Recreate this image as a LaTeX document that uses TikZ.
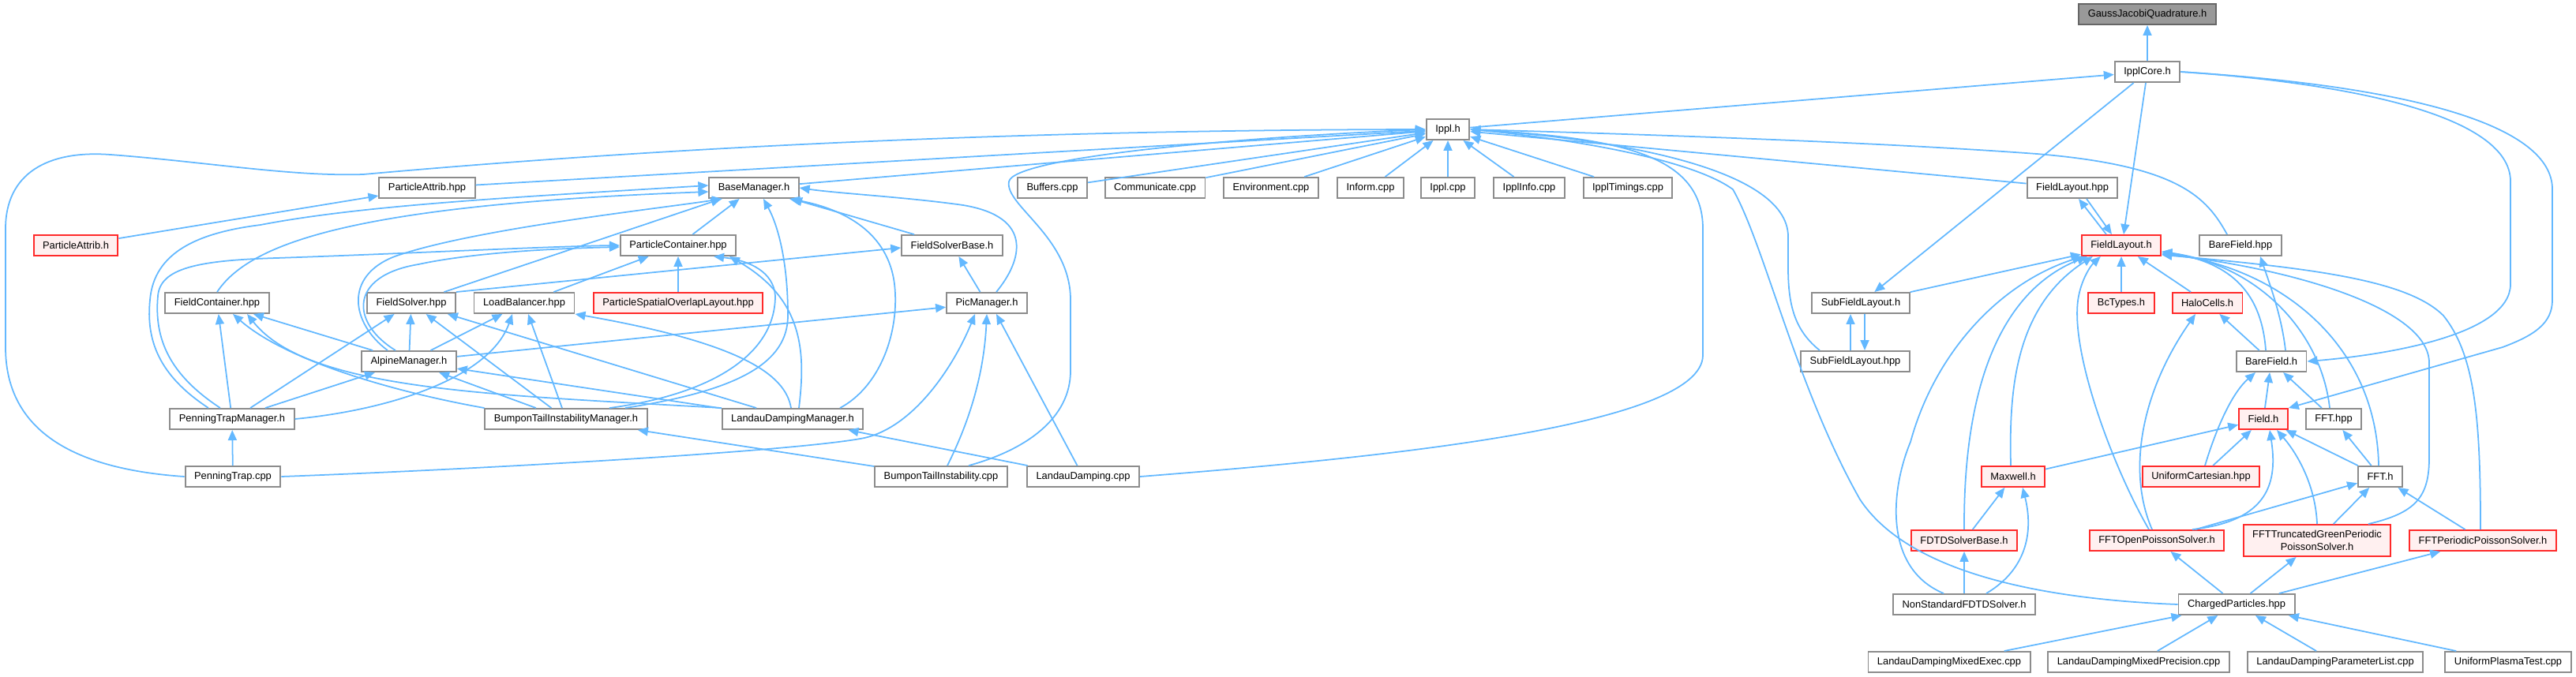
\documentclass[tikz,border=0pt]{standalone}
\usepackage{fontspec}
\setmainfont{Liberation Sans}
\usetikzlibrary{arrows.meta}
\begin{document}
\begin{tikzpicture}[x=1cm,y=-1cm,font=\fontsize{3.67}{4.4}\selectfont]
\definecolor{cedge}{HTML}{63B8FF}
\definecolor{cbox}{HTML}{8C8C8C}
\definecolor{cred}{HTML}{FF2A2A}\definecolor{credl}{HTML}{FFF0F0}
\definecolor{croot}{HTML}{999999}\definecolor{crootd}{HTML}{666666}
\tikzset{filenode/.style={draw=cbox,fill=white,line width=0.55pt,minimum height=0.26cm,inner xsep=0.115cm,inner ysep=0pt},
 filecut/.style={filenode,draw=cred,fill=credl},
 fileroot/.style={filenode,draw=crootd,fill=croot},
 dep/.style={cedge,line width=0.5pt,-{Triangle[length=0.13cm,width=0.11cm]}}}
\useasboundingbox (0,0) rectangle (32.63,8.57);
% files
\node[fileroot] (gjq) at (27.20,0.18) {GaussJacobiQuadrature.h};
\node[filenode] (core) at (27.20,0.91) {IpplCore.h};
\node[filenode] (ippl) at (18.34,1.64) {Ippl.h};
\node[filenode] (pahpp) at (5.41,2.38) {ParticleAttrib.hpp};
\node[filenode] (base) at (9.55,2.38) {BaseManager.h};
\node[filenode] (buffers) at (13.33,2.38) {Buffers.cpp};
\node[filenode] (comm) at (14.63,2.38) {Communicate.cpp};
\node[filenode] (env) at (16.10,2.38) {Environment.cpp};
\node[filenode] (inform) at (17.36,2.38) {Inform.cpp};
\node[filenode] (ipplcpp) at (18.34,2.38) {Ippl.cpp};
\node[filenode] (info) at (19.37,2.38) {IpplInfo.cpp};
\node[filenode] (timings) at (20.62,2.38) {IpplTimings.cpp};
\node[filenode] (flhpp) at (26.25,2.38) {FieldLayout.hpp};
\node[filecut] (pah) at (0.96,3.11) {ParticleAttrib.h};
\node[filenode] (pc) at (8.59,3.11) {ParticleContainer.hpp};
\node[filenode] (fsb) at (12.06,3.11) {FieldSolverBase.h};
\node[filecut] (flh) at (26.87,3.11) {FieldLayout.h};
\node[filenode] (bfhpp) at (28.38,3.11) {BareField.hpp};
\node[filenode] (fc) at (2.75,3.84) {FieldContainer.hpp};
\node[filenode] (fs) at (5.21,3.84) {FieldSolver.hpp};
\node[filenode] (lb) at (6.64,3.84) {LoadBalancer.hpp};
\node[filecut] (psol) at (8.59,3.84) {ParticleSpatialOverlapLayout.hpp};
\node[filenode] (pic) at (12.50,3.84) {PicManager.h};
\node[filenode] (sflh) at (23.57,3.84) {SubFieldLayout.h};
\node[filecut] (bc) at (26.87,3.84) {BcTypes.h};
\node[filecut] (halo) at (27.96,3.84) {HaloCells.h};
\node[filenode] (alpine) at (5.18,4.58) {AlpineManager.h};
\node[filenode] (sflhpp) at (23.50,4.58) {SubFieldLayout.hpp};
\node[filenode] (bfh) at (28.77,4.58) {BareField.h};
\node[filenode] (ptm) at (2.94,5.31) {PenningTrapManager.h};
\node[filenode] (btim) at (7.17,5.31) {BumponTailInstabilityManager.h};
\node[filenode] (ldm) at (10.04,5.31) {LandauDampingManager.h};
\node[filecut] (field) at (28.67,5.31) {Field.h};
\node[filenode] (ffthpp) at (29.56,5.31) {FFT.hpp};
\node[filenode] (ptcpp) at (2.95,6.04) {PenningTrap.cpp};
\node[filenode] (btcpp) at (11.92,6.04) {BumponTailInstability.cpp};
\node[filenode] (ldcpp) at (13.72,6.04) {LandauDamping.cpp};
\node[filecut] (maxwell) at (25.50,6.04) {Maxwell.h};
\node[filecut] (uc) at (27.88,6.04) {UniformCartesian.hpp};
\node[filenode] (ffth) at (30.15,6.04) {FFT.h};
\node[filecut] (fdtd) at (24.88,6.85) {FDTDSolverBase.h};
\node[filecut] (fftopen) at (27.32,6.85) {FFTOpenPoissonSolver.h};
\node[filecut,minimum height=0.40cm,align=center] (ffttg) at (29.35,6.85) {FFTTruncatedGreenPeriodic\\PoissonSolver.h};
\node[filecut] (fftper) at (31.45,6.85) {FFTPeriodicPoissonSolver.h};
\node[filenode] (nsfdtd) at (24.88,7.66) {NonStandardFDTDSolver.h};
\node[filenode] (cp) at (28.33,7.66) {ChargedParticles.hpp};
\node[filenode] (lmexec) at (24.69,8.39) {LandauDampingMixedExec.cpp};
\node[filenode] (lmprec) at (27.09,8.39) {LandauDampingMixedPrecision.cpp};
\node[filenode] (lparam) at (29.58,8.39) {LandauDampingParameterList.cpp};
\node[filenode] (uptest) at (31.77,8.39) {UniformPlasmaTest.cpp};
% top
\draw[dep] (core) -- (gjq);
\draw[dep] (ippl) -- (core);
\draw[dep] (core) -- ([xshift=0.03cm]flh.north);
\draw[dep] (core) -- (sflh);
\draw[dep] (core.east) .. controls (29.7,1.05) and (31.8,1.45) .. (31.8,2.3) -- (31.8,3.6) .. controls (31.8,4.25) and (30.2,4.5) .. (bfh.east);
\draw[dep] (core.east) .. controls (30.6,1.1) and (32.33,1.6) .. (32.33,2.4) -- (32.33,3.8) .. controls (32.33,4.1) and (32.1,4.25) .. (31.7,4.4) -- (field.north east);
% into Ippl.h
\draw[dep] (buffers) -- (ippl);
\draw[dep] (comm) -- (ippl);
\draw[dep] (env) -- (ippl);
\draw[dep] (inform) -- (ippl);
\draw[dep] (ipplcpp) -- (ippl);
\draw[dep] (info) -- (ippl);
\draw[dep] (timings) -- (ippl);
\draw[dep] (pahpp) -- (ippl);
\draw[dep] (base) -- (ippl);
\draw[dep] (flhpp) -- (ippl);
\draw[dep] (ptcpp.west) .. controls (1.0,5.95) and (0.07,5.5) .. (0.07,4.4) -- (0.07,2.9) .. controls (0.07,2.2) and (0.6,1.9) .. (1.4,1.96) .. controls (2.6,2.05) and (3.7,2.24) .. (4.6,2.21) .. controls (7.5,1.95) and (12,1.65) .. (ippl.west);
\draw[dep] ([xshift=0.35cm]btcpp.north) .. controls (13.0,5.7) and (13.56,5.3) .. (13.56,4.7) -- (13.56,3.8) .. controls (13.56,3.0) and (12.72,2.6) .. (12.78,2.3) .. controls (12.85,2.0) and (15.5,1.75) .. (ippl.west);
\draw[dep] (ldcpp.east) .. controls (17.5,5.8) and (21.57,5.4) .. (21.57,4.5) -- (21.57,2.9) .. controls (21.57,1.95) and (20.5,1.75) .. (ippl.east);
\draw[dep] (cp.west) .. controls (26.0,7.6) and (24.2,7.3) .. (23.56,6.33) .. controls (22.75,4.9) and (22.35,3.1) .. (21.95,2.4) .. controls (21.4,2.0) and (19.8,1.75) .. (ippl.east);
\draw[dep] ([xshift=-0.45cm]sflhpp.north) .. controls (22.75,4.2) and (22.65,3.9) .. (22.65,3.4) -- (22.65,3.0) .. controls (22.65,2.1) and (20.3,1.75) .. (ippl.east);
\draw[dep] ([xshift=-0.17cm]bfhpp.north) .. controls (27.95,2.5) and (27.6,2.1) .. (25.8,1.95) .. controls (23.5,1.78) and (20,1.68) .. (ippl.east);
% left side
\draw[dep] (pah) -- (pahpp);
\draw[dep] (fc.north) .. controls (3.15,3.1) and (4.4,2.6) .. ([yshift=-0.05cm]base.west);
\draw[dep] ([xshift=-0.3cm]ptm.north) .. controls (2.0,4.75) and (1.85,4.3) .. (1.9,3.8) .. controls (1.95,3.2) and (2.5,2.95) .. (3.3,2.85) .. controls (4.6,2.6) and (6.5,2.5) .. ([yshift=0.03cm]base.west);
\draw[dep] (fs) -- (base);
\draw[dep] ([xshift=-0.27cm]alpine.north) .. controls (4.45,4.1) and (4.35,3.5) .. (5.0,3.25) .. controls (6.0,2.9) and (8.3,2.65) .. ([xshift=-0.4cm]base.south);
\draw[dep] (pc) -- (base);
\draw[dep] ([xshift=0.75cm]btim.north) .. controls (9.35,4.95) and (9.98,4.6) .. (9.98,4.0) .. controls (9.98,3.3) and (9.85,2.85) .. ([xshift=0.12cm]base.south);
\draw[dep] ([xshift=0.6cm]ldm.north) .. controls (11.15,4.9) and (11.4,4.2) .. (11.33,3.6) .. controls (11.25,2.95) and (10.7,2.65) .. ([xshift=0.45cm]base.south);
\draw[dep] (fsb) -- (base);
\draw[dep] ([xshift=0.12cm]pic.north) .. controls (12.95,3.3) and (13.1,2.75) .. (12.2,2.6) .. controls (11.5,2.5) and (10.6,2.45) .. (base.east);
\draw[dep] ([xshift=-0.15cm]ptm.north) .. controls (2.15,4.75) and (1.95,4.3) .. (2.0,3.75) .. controls (2.03,3.4) and (2.5,3.3) .. (3.5,3.27) .. controls (5,3.22) and (7,3.12) .. (pc.west);
\draw[dep] ([xshift=-0.17cm]alpine.north) .. controls (4.45,4.1) and (4.4,3.5) .. (5.3,3.35) .. controls (6.0,3.2) and (7.0,3.15) .. ([yshift=-0.02cm]pc.west);
\draw[dep] (lb) -- (pc);
\draw[dep] (psol) -- (pc);
\draw[dep] ([xshift=0.55cm]btim.north) .. controls (9.0,5.0) and (9.82,4.5) .. (9.82,3.75) .. controls (9.8,3.45) and (9.5,3.3) .. ([xshift=0.45cm]pc.south);
\draw[dep] ([xshift=0.08cm]ldm.north) .. controls (10.2,4.5) and (10.2,3.8) .. ([xshift=0.65cm]pc.south);
\draw[dep] (ptm) -- (fc);
\draw[dep] (btim.north west) .. controls (4.9,4.95) and (3.6,4.55) .. ([xshift=0.2cm]fc.south);
\draw[dep] (ldm.north west) .. controls (6.2,5.0) and (3.9,4.95) .. ([xshift=0.38cm]fc.south);
\draw[dep] (alpine) -- (fc);
\draw[dep] ([xshift=0.23cm]ptm.north) -- (fs);
\draw[dep] (alpine) -- (fs);
\draw[dep] (btim) -- (fs);
\draw[dep] (ldm) -- (fs);
\draw[dep] (alpine) -- (lb);
\draw[dep] (ptm.east) .. controls (4.9,5.2) and (6.2,4.8) .. ([xshift=-0.15cm]lb.south);
\draw[dep] (btim) -- (lb);
\draw[dep] ([xshift=-0.02cm]ldm.north) .. controls (9.95,4.75) and (9.4,4.35) .. (lb.south east);
\draw[dep] ([xshift=0.42cm]ptm.north) -- (alpine);
\draw[dep] (btim) -- (alpine);
\draw[dep] (ldm) -- (alpine);
\draw[dep] (fs.north east) -- ([yshift=-0.03cm]fsb.west);
\draw[dep] (pic) -- (fsb);
\draw[dep] (alpine) -- (pic);
\draw[dep] (ptcpp.east) .. controls (6,5.95) and (10.1,5.72) .. (10.95,5.55) .. controls (11.6,5.4) and (12.1,4.6) .. ([xshift=-0.15cm]pic.south);
\draw[dep] ([xshift=0.08cm]btcpp.north) .. controls (12.35,5.2) and (12.47,4.6) .. (pic.south);
\draw[dep] (ldcpp) -- ([xshift=0.12cm]pic.south);
\draw[dep] (ptcpp) -- (ptm);
\draw[dep] (btcpp) -- (btim);
\draw[dep] (ldcpp) -- (ldm);
% right side
\draw[dep] ([xshift=-0.19cm]flh.north) -- ([xshift=0.08cm]flhpp.south);
\draw[dep] ([xshift=0.18cm]flhpp.south) -- ([xshift=-0.12cm]flh.north);
\draw[dep] (sflh) -- (flh);
\draw[dep] ([xshift=-0.06cm]sflhpp.north) -- ([xshift=-0.13cm]sflh.south);
\draw[dep] ([xshift=0.05cm]sflh.south) -- ([xshift=0.12cm]sflhpp.north);
\draw[dep] ([xshift=-0.26cm]nsfdtd.north) .. controls (23.85,7.2) and (23.95,6.2) .. (24.2,5.6) .. controls (24.5,4.5) and (25.3,3.6) .. ([xshift=0.02cm]flh.south west);
\draw[dep] (fdtd.north) .. controls (24.87,5.2) and (25.2,3.75) .. ([xshift=0.08cm]flh.south west);
\draw[dep] ([xshift=-0.03cm]maxwell.north) .. controls (25.45,5.0) and (25.5,3.9) .. ([xshift=0.15cm]flh.south west);
\draw[dep] ([xshift=-0.1cm]fftopen.north) .. controls (26.75,5.9) and (26.2,4.4) .. (26.33,3.75) .. controls (26.38,3.5) and (26.5,3.35) .. ([xshift=0.25cm]flh.south west);
\draw[dep] (bc) -- (flh);
\draw[dep] (halo) -- (flh);
\draw[dep] ([xshift=-0.07cm]bfh.north) .. controls (28.65,3.75) and (28.3,3.33) .. ([yshift=0.06cm]flh.south east);
\draw[dep] ([xshift=-0.05cm]ffthpp.north) .. controls (29.4,4.2) and (28.6,3.36) .. ([yshift=0.06cm]flh.south east);
\draw[dep] ([xshift=-0.02cm]ffth.north) .. controls (30.1,4.3) and (28.8,3.38) .. ([yshift=0.04cm]flh.south east);
\draw[dep] ([xshift=0.65cm]ffttg.north) .. controls (30.6,6.5) and (30.77,6.3) .. (30.77,5.8) -- (30.77,4.6) .. controls (30.77,3.9) and (29.0,3.4) .. ([yshift=0.03cm]flh.south east);
\draw[dep] ([xshift=-0.03cm]fftper.north) .. controls (31.42,5.3) and (31.35,4.5) .. (30.95,4.0) .. controls (30.5,3.55) and (29.3,3.4) .. ([yshift=0.02cm]flh.south east);
\draw[dep] ([xshift=0.18cm]bfh.north) .. controls (28.9,4.0) and (28.75,3.6) .. ([xshift=0.25cm]bfhpp.south);
\draw[dep] (bfh) -- (halo);
\draw[dep] ([xshift=-0.06cm]fftopen.north) .. controls (26.95,6.0) and (27.1,5.0) .. ([xshift=-0.15cm]halo.south);
\draw[dep] (field) -- (bfh);
\draw[dep] ([xshift=0.05cm]uc.north) .. controls (28.05,5.5) and (28.25,5.0) .. ([xshift=-0.2cm]bfh.south);
\draw[dep] (ffthpp) -- (bfh);
\draw[dep] (maxwell) -- (field);
\draw[dep] (uc) -- (field);
\draw[dep] ([xshift=0.45cm]fftopen.north) .. controls (28.75,6.6) and (28.85,6.1) .. ([xshift=0.08cm]field.south);
\draw[dep] (ffttg.north) .. controls (29.33,6.15) and (29.1,5.75) .. ([xshift=0.17cm]field.south);
\draw[dep] (ffth) -- (field);
\draw[dep] (ffth) -- (ffthpp);
\draw[dep] (fftopen) -- (ffth);
\draw[dep] (ffttg) -- (ffth);
\draw[dep] (fftper) -- (ffth);
\draw[dep] (fdtd) -- (maxwell);
\draw[dep] ([xshift=0.28cm]nsfdtd.north) .. controls (25.7,7.2) and (25.75,6.7) .. ([xshift=0.12cm]maxwell.south);
\draw[dep] (nsfdtd) -- (fdtd);
\draw[dep] (cp) -- (fftopen);
\draw[dep] (cp) -- (ffttg);
\draw[dep] (cp) -- (fftper);
\draw[dep] (lmexec) -- (cp);
\draw[dep] (lmprec) -- (cp);
\draw[dep] (lparam) -- (cp);
\draw[dep] (uptest) -- (cp);
\end{tikzpicture}
\end{document}
